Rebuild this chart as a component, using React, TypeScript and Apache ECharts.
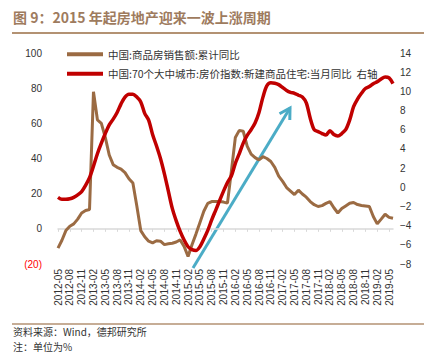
import React, { useEffect, useRef } from "react";
import * as echarts from "echarts";

const startYear = 2012;
const startMonth = 5;
const monthCount = 86;
const categories: string[] = [];
for (let k = 0; k < monthCount; k++) {
  const m = startMonth - 1 + k;
  const y = startYear + Math.floor(m / 12);
  const mm = (m % 12) + 1;
  categories.push(`${y}-${mm < 10 ? "0" + mm : mm}`);
}

const salesYoY: number[] = [
  -11, -6.5, -1, 1.5, 2.8, 5.5, 9, 10.4, 11, 78,
  62, 60, 52, 42, 36.5, 35, 34, 32, 28.5, 26,
  13, -1, -4.5, -7, -8, -6.8, -7, -9, -8.5, -8.2,
  -7.5, -6.3, -10, -15.7, -9, -3, 3.5, 10, 14.5, 15.5,
  15.5, 15.5, 15.2, 14.6, 33, 52, 56, 55.5, 47, 42.5,
  40.5, 39.2, 41, 40, 38.3, 35, 30, 27, 23.5, 21.5,
  19.5, 22, 19.8, 18, 15.5, 13.7, 12.7, 13.2, 14.5, 15.5,
  12, 9, 11.5, 13, 14.5, 15, 13.8, 13.3, 13, 12.7,
  7, 2.8, 5.5, 8.3, 6.5, 6,
];

const priceYoY: number[] = [
  -1.05, -1.25, -1.25, -1.2, -1.05, -0.8, -0.45, 0.2, 1.0, 2.2,
  3.5, 4.6, 5.6, 6.5, 7.1, 7.8, 8.7, 9.4, 9.7, 9.7,
  9.4, 8.9, 7.7, 7.0, 5.5, 4.3, 3.0, 1.4, -0.4, -2.2,
  -3.5, -4.6, -5.5, -6.2, -6.5, -6.6, -6.2, -5.4, -4.5, -3.4,
  -2.4, -1.4, -0.4, 0.5, 1.2, 2.5, 3.5, 4.6, 5.4, 6.0,
  6.7, 7.8, 9.4, 10.6, 10.9, 10.85, 10.7, 10.4, 10.1, 9.9,
  9.8, 9.6, 9.4, 8.8, 7.2, 6.0, 5.8, 5.6, 5.45, 5.9,
  5.5, 5.35, 5.6, 6.0, 7.0, 8.4, 9.2, 9.8, 10.3, 10.5,
  10.8, 11.0, 11.3, 11.5, 11.4, 10.8,
];

const seriesNames = [
  "中国:商品房销售额:累计同比",
  "中国:70个大中城市:房价指数:新建商品住宅:当月同比  右轴",
];
const titleText = "图 9：2015 年起房地产迎来一波上涨周期";
const sourceText = "资料来源：Wind，德邦研究所";
const noteText = "注：单位为%";

const CJK = "'Noto Sans CJK SC', sans-serif";
const NUM = "'Liberation Sans', Arial, sans-serif";

export default function App() {
  const ref = useRef<HTMLDivElement>(null);
  useEffect(() => {
    if (!ref.current) return;
    const chart = echarts.init(ref.current, undefined, { renderer: "svg" });
    const tipX = 290, tipY = 108;
    chart.setOption({
      animation: false,
      backgroundColor: "#ffffff",
      grid: { left: 58, right: 44, top: 53, bottom: 92, containLabel: false },
      legend: {
        orient: "vertical",
        left: 62,
        top: 44,
        icon: "rect",
        itemWidth: 36,
        itemHeight: 4,
        itemGap: 9,
        textStyle: { fontSize: 10.5, fontFamily: CJK, color: "#333" },
        data: seriesNames,
      },
      xAxis: [
        {
          type: "category",
          data: categories,
          boundaryGap: false,
          position: "bottom",
          axisLine: { show: false, onZero: false },
          axisTick: { show: false },
          axisLabel: {
            rotate: 90,
            interval: 2,
            fontSize: 10,
            fontFamily: NUM,
            color: "#333",
            margin: 5,
          },
          splitLine: { show: false },
        },
        {
          type: "category",
          data: categories,
          boundaryGap: false,
          position: "bottom",
          axisLine: {
            show: true,
            onZero: true,
            onZeroAxisIndex: 0,
            lineStyle: { color: "#d9d9d9", width: 1.5 },
          },
          axisTick: {
            show: true,
            interval: 2,
            length: 3,
            lineStyle: { color: "#d9d9d9" },
          },
          axisLabel: { show: false },
          splitLine: { show: false },
        },
      ],
      yAxis: [
        {
          type: "value",
          min: -20,
          max: 100,
          interval: 20,
          axisLine: { show: false },
          axisTick: { show: false },
          splitLine: { show: false },
          axisLabel: {
            fontSize: 10,
            fontFamily: NUM,
            margin: 16,
            formatter: (v: number) => (v < 0 ? `(${-v})` : `${v}`),
            color: (v: any) => (Number(v) < 0 ? "#ff0000" : "#333"),
          },
        },
        {
          type: "value",
          min: -8,
          max: 14,
          interval: 2,
          position: "right",
          axisLine: { show: false },
          axisTick: { show: false },
          splitLine: { show: false },
          axisLabel: {
            fontSize: 10,
            fontFamily: NUM,
            color: "#333",
            margin: 7,
            formatter: (v: number) => (v < 0 ? `\u2212${-v}` : `${v}`),
          },
        },
      ],
      series: [
        {
          name: seriesNames[0],
          type: "line",
          data: salesYoY,
          xAxisIndex: 0,
          yAxisIndex: 0,
          symbol: "none",
          lineStyle: { color: "#9B6B43", width: 3 },
          itemStyle: { color: "#9B6B43" },
        },
        {
          name: seriesNames[1],
          type: "line",
          data: priceYoY,
          xAxisIndex: 0,
          yAxisIndex: 1,
          symbol: "none",
          smooth: 0.3,
          lineStyle: { color: "#C00000", width: 3.5 },
          itemStyle: { color: "#C00000" },
        },
      ],
      graphic: [
        {
          type: "text",
          left: 13,
          top: 10,
          style: {
            text: titleText,
            fill: "#9E7B5E",
            font: `bold 14px ${CJK}`,
          },
        },
        {
          type: "line",
          shape: { x1: 12, y1: 33, x2: 424, y2: 33 },
          style: { stroke: "#B39273", lineWidth: 2 },
        },
        {
          type: "line",
          shape: { x1: 12, y1: 324, x2: 424, y2: 324 },
          style: { stroke: "#B39273", lineWidth: 1.5 },
        },
        {
          type: "text",
          left: 13,
          top: 326,
          style: { text: sourceText, fill: "#333", font: `10px ${CJK}` },
        },
        {
          type: "text",
          left: 13,
          top: 341,
          style: { text: noteText, fill: "#333", font: `10px ${CJK}` },
        },
        {
          type: "group",
          z: 100,
          children: [
            {
              type: "line",
              shape: { x1: 193, y1: 268, x2: tipX, y2: tipY },
              style: { stroke: "#4BACC6", lineWidth: 3 },
            },
            {
              type: "polyline",
              shape: {
                points: [
                  [279.5, 113.8],
                  [tipX, tipY],
                  [289.8, 120],
                ],
              },
              style: { stroke: "#4BACC6", lineWidth: 3, fill: "none" },
            },
          ],
        },
      ],
    });
    return () => chart.dispose();
  }, []);
  return (
    <div
      ref={ref}
      style={{ position: "fixed", left: 0, top: 0, width: 437, height: 356, background: "#fff" }}
    />
  );
}
